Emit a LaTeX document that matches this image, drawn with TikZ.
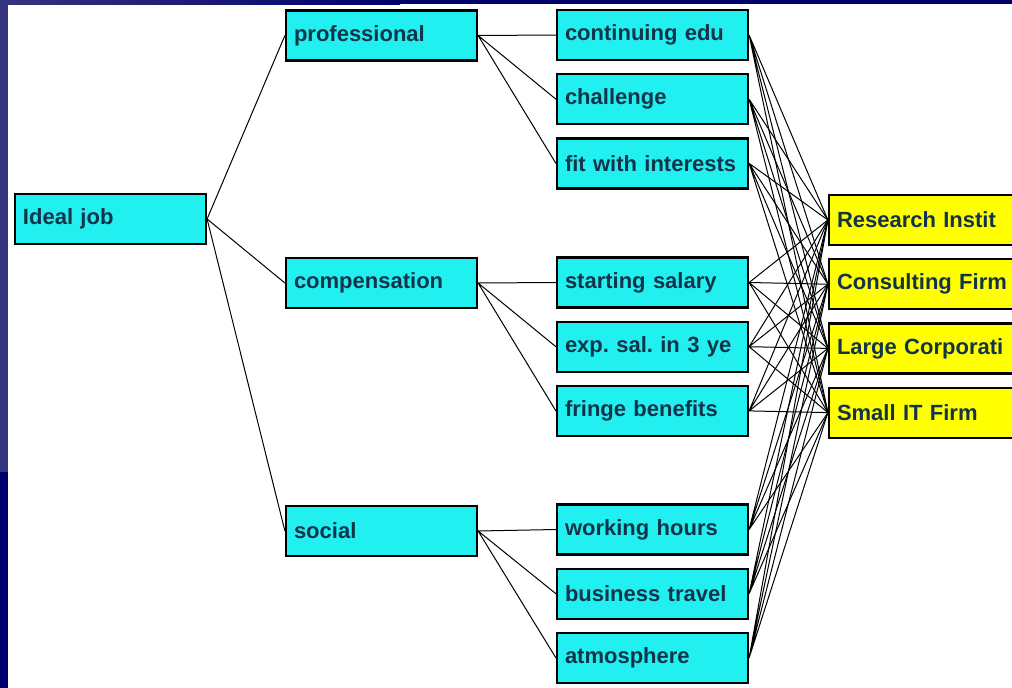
\documentclass[tikz,border=0pt]{standalone}
\usepackage{fontspec}
\setmainfont{Liberation Sans}
\usepackage{tikz}
\usetikzlibrary{positioning}
\usepackage{xcolor}
\definecolor{jobCyan}{HTML}{22F0F0}
\definecolor{jobYellow}{HTML}{FFFF00}
\definecolor{jobText}{HTML}{12344A}
\definecolor{navyDark}{HTML}{00006C}
\definecolor{navyLight}{HTML}{33337E}
\newcommand{\jobfont}{\fontsize{22}{26}\selectfont\bfseries}
\frenchspacing

\begin{document}
\begin{tikzpicture}[
        x=1pt, y=-1pt,
        box/.style={
          rectangle, draw=black, line width=2.2pt, fill=jobCyan,
          minimum width=191pt, minimum height=50pt,
          inner xsep=8pt, text width=175pt, align=left,
          text=jobText, font=\jobfont
        },
        choice/.style={box, fill=jobYellow},
        link/.style={line width=1pt, color=black}
      ]

      \useasboundingbox (0,0) rectangle (1012,688);
      \clip (0,0) rectangle (1012,688);

      % --- FONDO ---
      \fill[white] (0,0) rectangle (1012,688);
      \fill[navyDark] (0,0) rectangle (8,688);
      \fill[navyLight] (0,0) rectangle (8,472);
      \shade[left color=navyLight, right color=navyDark] (8,0) rectangle (400,4);
      \fill[navyDark] (400,0) rectangle (1012,4);

      % --- OBJETIVO ---
      \node[box] (ideal) at (110.5,219) {Ideal job};

      % --- CRITERIOS ---
      \node[box] (prof) at (381.5,35.5) {professional};
      \node[box] (comp) at (381.5,283) {compensation};
      \node[box] (soc) at (381.5,531) {social};

      \draw[link] (ideal.east) -- (prof.west);
      \draw[link] (ideal.east) -- (comp.west);
      \draw[link] (ideal.east) -- (soc.west);

      % --- SUBCRITERIOS ---
      \node[box] (contedu) at (652.5,35) {continuing edu};
      \node[box, below=12pt of contedu] (chall) {challenge};
      \node[box, below=12pt of chall] (fitint) {fit with interests};

      \node[box] (startsal) at (652.5,282.5) {starting salary};
      \node[box, below=12pt of startsal] (expsal) {exp. sal. in 3 ye};
      \node[box, below=12pt of expsal] (fringe) {fringe benefits};

      \node[box] (workhrs) at (652.5,529.5) {working hours};
      \node[box, below=12pt of workhrs] (travel) {business travel};
      \node[box, below=12pt of travel] (atmos) {atmosphere};

      \draw[link] (prof.east) -- (contedu.west) (prof.east) -- (chall.west) (prof.east) -- (fitint.west);
      \draw[link] (comp.east) -- (startsal.west) (comp.east) -- (expsal.west) (comp.east) -- (fringe.west);
      \draw[link] (soc.east) -- (workhrs.west) (soc.east) -- (travel.west) (soc.east) -- (atmos.west);

      % --- ALTERNATIVAS ---
      \node[choice] (research) at (924.5,220) {Research Instit};
      \node[choice, below=12pt of research] (consult) {Consulting Firm};
      \node[choice, below=12pt of consult] (largecorp) {Large Corporati};
      \node[choice, below=12pt of largecorp] (smallit) {Small IT Firm};

      \draw[link] (contedu.east) -- (research.west) (contedu.east) -- (consult.west) (contedu.east) -- (largecorp.west) (contedu.east) -- (smallit.west);
      \draw[link] (chall.east) -- (research.west) (chall.east) -- (consult.west) (chall.east) -- (largecorp.west) (chall.east) -- (smallit.west);
      \draw[link] (fitint.east) -- (research.west) (fitint.east) -- (consult.west) (fitint.east) -- (largecorp.west) (fitint.east) -- (smallit.west);
      \draw[link] (startsal.east) -- (research.west) (startsal.east) -- (consult.west) (startsal.east) -- (largecorp.west) (startsal.east) -- (smallit.west);
      \draw[link] (expsal.east) -- (research.west) (expsal.east) -- (consult.west) (expsal.east) -- (largecorp.west) (expsal.east) -- (smallit.west);
      \draw[link] (fringe.east) -- (research.west) (fringe.east) -- (consult.west) (fringe.east) -- (largecorp.west) (fringe.east) -- (smallit.west);
      \draw[link] (workhrs.east) -- (research.west) (workhrs.east) -- (consult.west) (workhrs.east) -- (largecorp.west) (workhrs.east) -- (smallit.west);
      \draw[link] (travel.east) -- (research.west) (travel.east) -- (consult.west) (travel.east) -- (largecorp.west) (travel.east) -- (smallit.west);
      \draw[link] (atmos.east) -- (research.west) (atmos.east) -- (consult.west) (atmos.east) -- (largecorp.west) (atmos.east) -- (smallit.west);

    \end{tikzpicture}
\end{document}
